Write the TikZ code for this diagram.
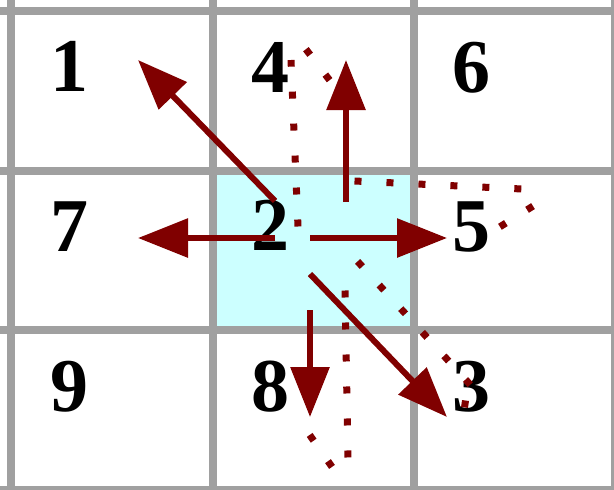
\documentclass[tikz,border=0pt]{standalone}
\usepackage{fontspec}
\setmainfont{Liberation Serif}
\usetikzlibrary{arrows.meta}
\definecolor{gridgray}{HTML}{A0A0A0}
\definecolor{cellcyan}{HTML}{CCFFFF}
\definecolor{darkred}{HTML}{800000}
\begin{document}
\begin{tikzpicture}[x=1pt,y=-1pt,
  gridline/.style={draw=gridgray,line width=8pt},
  digit/.style={anchor=base,inner sep=0pt,font=\fontsize{76}{76}\selectfont\bfseries},
  movearrow/.style={draw=darkred,line width=6pt,-{Triangle[length=50pt,width=38pt]}},
  dotpath/.style={draw=darkred,line width=7pt,dash pattern=on 7pt off 25pt}]
\useasboundingbox (0,0) rectangle (614,490);
\fill[cellcyan] (213,171) rectangle (414,330);
% grid
\foreach \x in {11,213,414,615} \draw[gridline] (\x,0) -- (\x,494);
\foreach \y in {11,171,330,490} \draw[gridline] (0,\y) -- (618,\y);
% digits
\node[digit] (n1) at (69,91) {1};
\node[digit] (n4) at (270,92) {4};
\node[digit] (n6) at (471,92) {6};
\node[digit] (n7) at (69,251) {7};
\node[digit] (n2) at (270,250) {2};
\node[digit] (n5) at (471,251) {5};
\node[digit] (n9) at (69,411) {9};
\node[digit] (n8) at (270,411) {8};
\node[digit] (n3) at (471,411) {3};
% arrow coordinates
\coordinate (sNW) at (275,201);
\coordinate (tNW) at (138,60);
\coordinate (sN) at (346,202);
\coordinate (tN) at (346,60);
\coordinate (sE) at (310,238);
\coordinate (tE) at (447,238);
\coordinate (sW) at (275,238);
\coordinate (tW) at (138,238);
\coordinate (sS) at (310,310);
\coordinate (tS) at (310,417);
\coordinate (sSE) at (310,274);
\coordinate (tSE) at (447,417);
% dotted paths
\coordinate (p1a) at (298,226.5);
\coordinate (p1b) at (291,60);
\coordinate (p1c) at (305.9,49.2);
\coordinate (p1d) at (331,82);
\draw[dotpath] (p1a) -- (p1b);
\draw[dotpath] (p1c) -- (p1d);
\coordinate (p2a) at (354.5,181);
\coordinate (p2b) at (522,189);
\coordinate (p2c) at (533,206.1);
\coordinate (p2d) at (498,228);
\draw[dotpath] (p2a) -- (p2b);
\draw[dotpath] (p2c) -- (p2d);
\coordinate (p3a) at (357.6,261.4);
\coordinate (p3b) at (471,385.5);
\coordinate (p3c) at (465.5,400.5);
\coordinate (p3d) at (464.5,407.5);
\draw[dotpath] (p3a) -- (p3b);
\draw[dotpath] (p3c) -- (p3d);
\coordinate (p4a) at (345,290.5);
\coordinate (p4b) at (348,458);
\coordinate (p4c) at (332,466.9);
\coordinate (p4d) at (309,434);
\draw[dotpath] (p4a) -- (p4b);
\draw[dotpath] (p4c) -- (p4d);
% arrows
\draw[movearrow] (sNW) -- (tNW);
\draw[movearrow] (sN) -- (tN);
\draw[movearrow] (sE) -- (tE);
\draw[movearrow] (sW) -- (tW);
\draw[movearrow] (sS) -- (tS);
\draw[movearrow] (sSE) -- (tSE);
\end{tikzpicture}
\end{document}
